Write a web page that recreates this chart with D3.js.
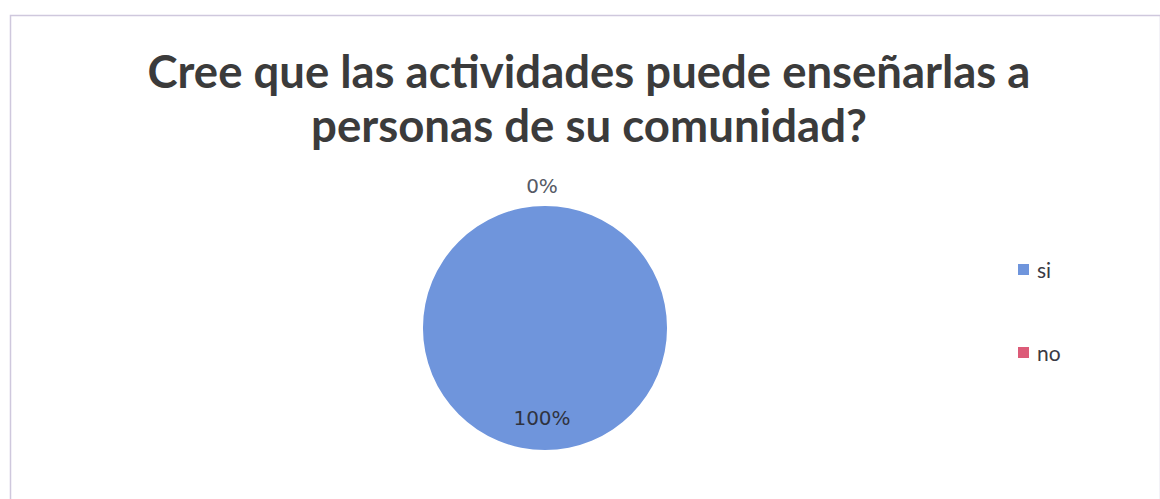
<!DOCTYPE html>
<html>
<head>
<meta charset="utf-8">
<script src="https://cdn.jsdelivr.net/npm/d3@7"></script>
<style>
  body { margin: 0; background: #fff; }
</style>
</head>
<body>
<div id="chart"></div>
<script>
var categories = ["si", "no"];
var values = [100, 0];
var titleLines = ["Cree que las actividades puede enseñarlas a", "personas de su comunidad?"];

var svgWidth = 1160;
var svgHeight = 499;

var colors = d3.scaleOrdinal().domain(categories).range(["#6f95dc", "#dc5b78"]);

var svg = d3
  .select("#chart")
  .append("svg")
  .attr("width", svgWidth)
  .attr("height", svgHeight);

// chart frame
svg
  .append("rect")
  .attr("x", 10.5)
  .attr("y", 15.5)
  .attr("width", 1150)
  .attr("height", 485)
  .attr("fill", "none")
  .attr("stroke", "#cfc8dd")
  .attr("stroke-width", 1.5);

// title, scaled to the width it has in the picture
var titleWidths = [883, 556];
var titleBase = [88, 142];
titleLines.forEach(function (line, i) {
  var t = svg
    .append("text")
    .text(line)
    .attr("x", 589)
    .attr("y", titleBase[i])
    .style("text-anchor", "middle")
    .style("font-family", "Lato, 'Open Sans', sans-serif")
    .style("font-weight", "bold")
    .style("font-size", "40px")
    .attr("fill", "#3b3b3b");
  var w = t.node().getComputedTextLength();
  t.style("font-size", (40 * titleWidths[i] / w).toFixed(2) + "px");
});

var cx = 545, cy = 328, radius = 122;

var pie = d3.pie().sort(null).value((d) => d.value);
var data = categories.map((c, i) => ({ name: c, value: values[i] }));
var arcs = pie(data);

var arc = d3.arc().innerRadius(0).outerRadius(radius);
var inLabel = d3.arc().innerRadius(radius * 0.74).outerRadius(radius * 0.74);
var outLabel = d3.arc().innerRadius(radius + 20).outerRadius(radius + 20);

var pieGroup = svg.append("g").attr("transform", `translate(${cx}, ${cy})`);

pieGroup
  .selectAll("path")
  .data(arcs)
  .enter()
  .append("path")
  .attr("d", arc)
  .attr("fill", (d) => colors(d.data.name));

var total = d3.sum(values);
pieGroup
  .selectAll("text")
  .data(arcs)
  .enter()
  .append("text")
  .text((d) => Math.round((d.data.value / total) * 100) + "%")
  .attr("transform", function (d) {
    var p = d.data.value > 0 ? inLabel.centroid(d) : outLabel.centroid(d);
    return `translate(${p[0] - 3}, ${p[1] + 7})`;
  })
  .style("text-anchor", "middle")
  .style("font-family", "'DejaVu Sans', sans-serif")
  .style("font-size", "20px")
  .attr("fill", (d) => (d.data.value > 0 ? "#2f3340" : "#555a66"));

// legend
var legend = svg
  .append("g")
  .selectAll("g")
  .data(categories)
  .enter()
  .append("g")
  .attr("transform", (d, i) => `translate(1018, ${264 + i * 83})`);

legend
  .append("rect")
  .attr("width", 11)
  .attr("height", 11)
  .attr("fill", (d) => colors(d));

legend
  .append("text")
  .text((d) => d)
  .attr("x", 19)
  .attr("y", 14)
  .style("font-family", "Lato, 'Open Sans', sans-serif")
  .style("font-size", "21px")
  .attr("fill", "#3a3a44");
</script>
</body>
</html>
